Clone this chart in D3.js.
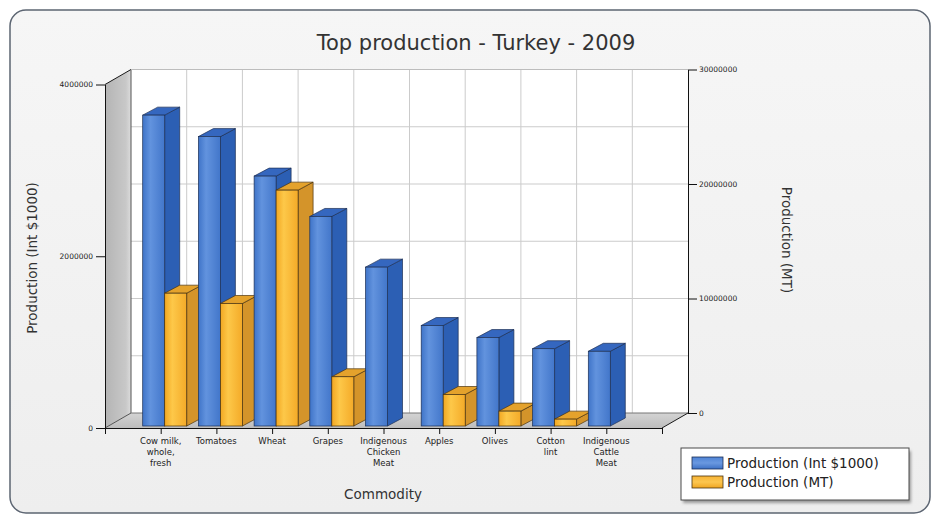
<!DOCTYPE html>
<html>
<head>
<meta charset="utf-8">
<script src="https://cdn.jsdelivr.net/npm/d3@7"></script>
<style>
  body { margin: 0; background: #ffffff; }
  svg { display: block; }
</style>
</head>
<body>
<svg id="chart" width="937" height="518"></svg>
<script>
// ---- data ----
const categories = [
  "Cow milk, whole, fresh", "Tomatoes", "Wheat", "Grapes",
  "Indigenous Chicken Meat", "Apples", "Olives", "Cotton lint",
  "Indigenous Cattle Meat"
];
// tick label lines for each commodity
const categoryLabelLines = [
  ["Cow milk,", "whole,", "fresh"], ["Tomatoes"], ["Wheat"], ["Grapes"],
  ["Indigenous", "Chicken", "Meat"], ["Apples"], ["Olives"], ["Cotton", "lint"],
  ["Indigenous", "Cattle", "Meat"]
];
const productionInt = [3620000, 3370000, 2910000, 2440000, 1850000, 1170000, 1030000, 900000, 870000];
const productionMT  = [11600000, 10700000, 20600000, 4300000, 0, 2750000, 1300000, 600000, 0];
const seriesNames = ["Production (Int $1000)", "Production (MT)"];
const leftTicks = [0, 2000000, 4000000];
const rightTicks = [0, 10000000, 20000000, 30000000];
const rightGrid = [5000000, 10000000, 15000000, 20000000, 25000000, 30000000];

// ---- layout ----
const FONT = "'DejaVu Sans',Verdana,sans-serif";
const plot = { left: 105, right: 662, top: 84.5, bottom: 428 };
const wall = { dx: 26, dy: -15 };          // depth of the back wall
const barInset = { dx: 4, dy: -2 };        // bars sit slightly into the floor
const barDepth = { dx: 15, dy: -8 };
const barW = 22;

const svg = d3.select("#chart");
const defs = svg.append("defs");

const x = d3.scaleLinear().domain([0, 10]).range([plot.left, plot.right]);
const yL = d3.scaleLinear().domain([0, 4000000]).range([plot.bottom, plot.top]);
const yR = d3.scaleLinear().domain([0, 30000000]).range([plot.bottom, plot.top]);

// ---- gradients ----
function linGrad(id, x2, y2, stops) {
  const g = defs.append("linearGradient").attr("id", id)
    .attr("x1", 0).attr("y1", 0).attr("x2", x2).attr("y2", y2);
  stops.forEach(([o, c]) => g.append("stop").attr("offset", o).attr("stop-color", c));
}
linGrad("panelBg", 0, 1, [[0, "#f6f6f6"], [1, "#eeeeee"]]);
linGrad("wallLeft", 1, 0, [[0, "#b4b4b4"], [0.8, "#c8c8c8"], [1, "#dcdcdc"]]);
linGrad("floor", 0, 1, [[0, "#d4d4d4"], [1, "#bdbdbd"]]);
linGrad("blueFront", 1, 0, [[0, "#3f74c8"], [0.35, "#6293de"], [1, "#4276ca"]]);
linGrad("orangeFront", 1, 0, [[0, "#f2a722"], [0.35, "#fdc849"], [1, "#f4aa28"]]);
linGrad("blueSwatch", 0, 1, [[0, "#4f84d6"], [0.5, "#6a98e0"], [1, "#3c70c4"]]);
linGrad("orangeSwatch", 0, 1, [[0, "#f7b334"], [0.5, "#fcc650"], [1, "#f0a521"]]);

const shadowF = defs.append("filter").attr("id", "shadow")
  .attr("x", "-10%").attr("y", "-10%").attr("width", "130%").attr("height", "140%");
shadowF.append("feGaussianBlur").attr("stdDeviation", 1.6);

const colors = [
  { front: "url(#blueFront)", side: "#2c5fb4", top: "#3567bf", stroke: "#1c2f55", swatch: "url(#blueSwatch)" },
  { front: "url(#orangeFront)", side: "#d4942a", top: "#e4a22c", stroke: "#4a3410", swatch: "url(#orangeSwatch)" }
];

// ---- panel ----
svg.append("rect").attr("x", 10).attr("y", 10).attr("width", 920).attr("height", 503)
  .attr("rx", 16).attr("fill", "url(#panelBg)").attr("stroke", "#5c6572").attr("stroke-width", 1.5);

// ---- title ----
svg.append("text").attr("x", 476).attr("y", 50).attr("text-anchor", "middle")
  .attr("font-family", FONT).attr("font-size", 21).attr("fill", "#333")
  .text("Top production - Turkey - 2009");

// ---- 3D frame: back wall, left wall, floor ----
const bx0 = plot.left + wall.dx, bx1 = plot.right + wall.dx;
const by0 = plot.top + wall.dy, by1 = plot.bottom + wall.dy;

svg.append("rect").attr("x", bx0).attr("y", by0).attr("width", bx1 - bx0).attr("height", by1 - by0)
  .attr("fill", "#ffffff");

const grid = svg.append("g").attr("stroke", "#cbcbcb").attr("stroke-width", 1);
grid.selectAll("line.h").data(rightGrid).join("line")
  .attr("x1", bx0).attr("x2", bx1)
  .attr("y1", d => yR(d) + wall.dy).attr("y2", d => yR(d) + wall.dy);
grid.selectAll("line.v").data(d3.range(1, 10)).join("line")
  .attr("x1", d => x(d) + wall.dx).attr("x2", d => x(d) + wall.dx)
  .attr("y1", by0).attr("y2", by1);

svg.append("path")
  .attr("d", `M${plot.left},${plot.top}L${bx0},${by0}L${bx0},${by1}L${plot.left},${plot.bottom}Z`)
  .attr("fill", "url(#wallLeft)");
svg.append("path")
  .attr("d", `M${plot.left},${plot.bottom}L${plot.right},${plot.bottom}L${bx1},${by1}L${bx0},${by1}Z`)
  .attr("fill", "url(#floor)");

const edges = svg.append("g").attr("stroke", "#1a1a1a").attr("stroke-width", 1).attr("fill", "none");
edges.append("path").attr("d", `M${plot.left},${plot.top}L${bx0},${by0}`);
edges.append("path").attr("d", `M${bx0},${by0}L${bx0},${by1}L${plot.left},${plot.bottom}`).attr("stroke", "#555");
edges.append("path").attr("d", `M${bx0},${by1}L${bx1},${by1}`).attr("stroke", "#777");
edges.append("path").attr("d", `M${plot.right},${plot.bottom}L${bx1},${by1}`);
edges.append("path").attr("d", `M${bx0},${by0}L${bx1},${by0}`).attr("stroke", "#bdbdbd");

// ---- bars ----
function drawBar(g, x0, x1, yTop, yBase, c) {
  const { dx, dy } = barDepth;
  g.append("path")
    .attr("d", `M${x1},${yTop}L${x1 + dx},${yTop + dy}L${x1 + dx},${yBase + dy}L${x1},${yBase}Z`)
    .attr("fill", c.side).attr("stroke", c.stroke).attr("stroke-width", 0.7).attr("stroke-linejoin", "round");
  g.append("path")
    .attr("d", `M${x0},${yTop}L${x0 + dx},${yTop + dy}L${x1 + dx},${yTop + dy}L${x1},${yTop}Z`)
    .attr("fill", c.top).attr("stroke", c.stroke).attr("stroke-width", 0.7).attr("stroke-linejoin", "round");
  g.append("rect").attr("x", x0).attr("y", yTop).attr("width", x1 - x0).attr("height", yBase - yTop)
    .attr("fill", c.front).attr("stroke", c.stroke).attr("stroke-width", 0.7);
}

const bars = svg.append("g").attr("transform", `translate(${barInset.dx},${barInset.dy})`);
categories.forEach((cat, i) => {
  const cx = x(i + 1);
  const g = bars.append("g");
  if (productionInt[i] > 0) drawBar(g, cx - barW, cx, yL(productionInt[i]), yL(0), colors[0]);
  if (productionMT[i] > 0) drawBar(g, cx, cx + barW, yR(productionMT[i]), yR(0), colors[1]);
});

// ---- axes ----
function styleAxis(g, size) {
  g.selectAll("path.domain").attr("stroke", "#111").attr("stroke-width", 1);
  g.selectAll(".tick line").attr("stroke", "#111");
  g.selectAll(".tick text").attr("font-family", FONT).attr("font-size", size).attr("fill", "#222");
}

const axL = svg.append("g").attr("transform", `translate(${plot.left},0)`)
  .call(d3.axisLeft(yL).tickValues(leftTicks).tickFormat(d3.format("d")).tickSizeInner(9).tickSizeOuter(0).tickPadding(3));
styleAxis(axL, 7.5);

const axR = svg.append("g").attr("transform", `translate(${bx1},${wall.dy})`)
  .call(d3.axisRight(yR).tickValues(rightTicks).tickFormat(d3.format("d")).tickSizeInner(9).tickSizeOuter(0).tickPadding(2));
styleAxis(axR, 7.5);

const axB = svg.append("g").attr("transform", `translate(0,${plot.bottom})`)
  .call(d3.axisBottom(x).tickValues(d3.range(0, 11)).tickFormat("").tickSizeInner(6).tickSizeOuter(0));
styleAxis(axB, 8);

// category labels under their ticks
const labels = svg.append("g").attr("font-family", FONT).attr("font-size", 8.5).attr("fill", "#222")
  .attr("text-anchor", "middle");
categoryLabelLines.forEach((lines, i) => {
  const t = labels.append("text").attr("x", x(i + 1)).attr("y", plot.bottom + 16);
  lines.forEach((ln, k) => {
    t.append("tspan").attr("x", x(i + 1)).attr("dy", k === 0 ? 0 : 11).text(ln);
  });
});

// ---- axis titles ----
svg.append("text").attr("transform", "translate(37,258) rotate(-90)").attr("text-anchor", "middle")
  .attr("font-family", FONT).attr("font-size", 13.5).attr("fill", "#333").text(seriesNames[0]);
svg.append("text").attr("transform", "translate(782,240) rotate(90)").attr("text-anchor", "middle")
  .attr("font-family", FONT).attr("font-size", 13.5).attr("fill", "#333").text(seriesNames[1]);
svg.append("text").attr("x", 383).attr("y", 499).attr("text-anchor", "middle")
  .attr("font-family", FONT).attr("font-size", 13.5).attr("fill", "#333").text("Commodity");

// ---- legend ----
const lg = svg.append("g").attr("transform", "translate(681,448)");
lg.append("rect").attr("x", 2).attr("y", 3).attr("width", 228).attr("height", 52)
  .attr("fill", "#9a9a9a").attr("filter", "url(#shadow)");
lg.append("rect").attr("width", 228).attr("height", 52).attr("fill", "#ffffff")
  .attr("stroke", "#4a4a4a").attr("stroke-width", 1);
seriesNames.forEach((name, k) => {
  lg.append("rect").attr("x", 11).attr("y", 9 + k * 19).attr("width", 31).attr("height", 12)
    .attr("fill", colors[k].swatch).attr("stroke", colors[k].stroke).attr("stroke-width", 0.8);
  lg.append("text").attr("x", 46).attr("y", 20 + k * 19)
    .attr("font-family", FONT).attr("font-size", 13.5).attr("fill", "#222").text(name);
});
</script>
</body>
</html>
